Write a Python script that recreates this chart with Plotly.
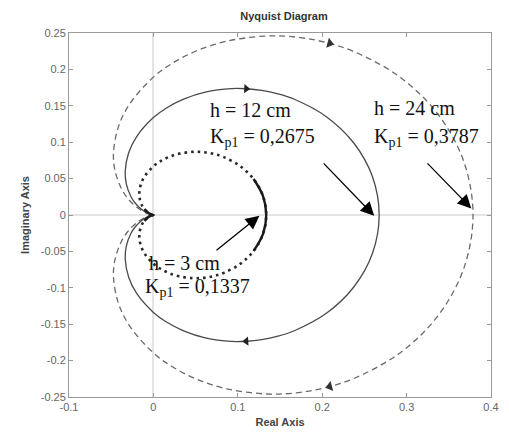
import math
import plotly.graph_objects as go

# Nyquist loci (positive-frequency branch) for three tank levels;
# the negative-frequency branch is the complex conjugate of these.
re_h24 = [0.3787, 0.3675, 0.3361, 0.2900, 0.2364, 0.2089, 0.1818, 0.1557, 0.1310, 0.0870, 0.0507, 0.0220,
          0.0, -0.0280, -0.0415, -0.0473, -0.0454, -0.0378, -0.0303, -0.0197, -0.0097, -0.0037, 0.0]
im_h24 = [0.0, -0.0743, -0.1400, -0.1912, -0.2251, -0.2357, -0.2424, -0.2456, -0.2457, -0.2388, -0.2253, -0.2081,
          -0.1894, -0.1527, -0.1210, -0.0851, -0.0606, -0.0360, -0.0227, -0.0105, -0.0033, -0.0007, 0.0]

re_h12 = [0.2675, 0.2596, 0.2374, 0.2049, 0.1670, 0.1475, 0.1284, 0.1100, 0.0926, 0.0614, 0.0358, 0.0155,
          0.0, -0.0198, -0.0293, -0.0334, -0.0321, -0.0267, -0.0214, -0.0139, -0.0068, -0.0026, 0.0]
im_h12 = [0.0, -0.0525, -0.0989, -0.1351, -0.1590, -0.1665, -0.1712, -0.1734, -0.1736, -0.1687, -0.1591, -0.1470,
          -0.1338, -0.1078, -0.0855, -0.0601, -0.0428, -0.0254, -0.0161, -0.0074, -0.0024, -0.0005, 0.0]

re_h3 = [0.1337, 0.1298, 0.1187, 0.1024, 0.0835, 0.0737, 0.0642, 0.0550, 0.0463, 0.0307, 0.0179, 0.0078,
         0.0, -0.0099, -0.0147, -0.0167, -0.0160, -0.0134, -0.0107, -0.0069, -0.0034, -0.0013, 0.0]
im_h3 = [0.0, -0.0262, -0.0494, -0.0675, -0.0795, -0.0832, -0.0856, -0.0867, -0.0867, -0.0843, -0.0795, -0.0735,
         -0.0669, -0.0539, -0.0427, -0.0300, -0.0214, -0.0127, -0.0080, -0.0037, -0.0012, -0.0003, 0.0]

x_ticks = [-0.1, 0, 0.1, 0.2, 0.3, 0.4]
x_tick_text = ["-0.1", "0", "0.1", "0.2", "0.3", "0.4"]
y_ticks = [-0.25, -0.2, -0.15, -0.1, -0.05, 0, 0.05, 0.1, 0.15, 0.2, 0.25]
y_tick_text = ["-0.25", "-0.2", "-0.15", "-0.1", "-0.05", "0", "0.05", "0.1", "0.15", "0.2", "0.25"]

# text, left x, middle y
labels = [
    ("h = 24 cm", 0.259, 0.1473),
    ("K<sub>p1</sub> = 0,3787", 0.259, 0.1060),
    ("h = 12 cm", 0.065, 0.1446),
    ("K<sub>p1</sub> = 0,2675", 0.065, 0.1060),
    ("h = 3 cm", -0.008, -0.0662),
    ("K<sub>p1</sub> = 0,1337", -0.012, -0.1000),
]
# (tail x, tail y, head x, head y) of the pointer arrows
pointers = [
    (0.323, 0.073, 0.3767, 0.009),
    (0.200, 0.073, 0.2616, -0.001),
    (0.073, -0.050, 0.1256, -0.001),
]

PX_X = 860.0  # pixels per unit along x
PX_Y = 740.0  # pixels per unit along y


def closed_locus(re, im):
    # negative-frequency branch (origin -> K) then positive-frequency branch (K -> origin)
    xs = list(reversed(re)) + re[1:]
    ys = [-v for v in reversed(im)] + im[1:]
    return xs, ys


def cusp(re, im):
    # stretch ending at the origin: upper branch in, lower branch back out
    xs = list(re) + list(reversed(re))[1:]
    ys = [-v for v in im] + list(reversed(im))[1:]
    return xs, ys


def heading(dx, dy):
    return math.degrees(math.atan2(dx * PX_X, dy * PX_Y))


def arrow_marks(re, im, k, color, size):
    xs = [re[k], re[k]]
    ys = [im[k], -im[k]]
    ang_low = heading(re[k + 1] - re[k - 1], im[k + 1] - im[k - 1])
    ang_up = heading(re[k - 1] - re[k + 1], -(im[k - 1] - im[k + 1]))
    return go.Scatter(x=xs, y=ys, mode="markers", hoverinfo="skip",
                      marker=dict(symbol="triangle-up", size=size, color=color,
                                  angle=[ang_low, ang_up], line=dict(width=0)))


fig = go.Figure()

# h = 24 cm : dashed
x24, y24 = closed_locus(re_h24, im_h24)
fig.add_trace(go.Scatter(x=x24, y=y24, mode="lines",
                         line=dict(color="#6a6a6a", width=1.3, dash="6px,4px", shape="spline", smoothing=1)))
fig.add_trace(arrow_marks(re_h24, im_h24, 5, "#333333", 9))

# h = 12 cm : solid
x12, y12 = closed_locus(re_h12, im_h12)
fig.add_trace(go.Scatter(x=x12, y=y12, mode="lines",
                         line=dict(color="#4a4a4a", width=1.3, shape="spline", smoothing=1)))
fig.add_trace(arrow_marks(re_h12, im_h12, 7, "#222222", 8))

# h = 3 cm : dotted, with dense ends near K and near the origin
x3, y3 = closed_locus(re_h3, im_h3)
fig.add_trace(go.Scatter(x=x3, y=y3, mode="lines",
                         line=dict(color="#2a2a2a", width=2.6, dash="2.6px,4px", shape="spline", smoothing=1)))
xa, ya = closed_locus(re_h3[:3], im_h3[:3])
xb, yb = cusp(re_h3[-5:], im_h3[-5:])
for xs, ys in ((xa, ya), (xb, yb)):
    fig.add_trace(go.Scatter(x=xs, y=ys, mode="lines",
                             line=dict(color="#1a1a1a", width=2.4, shape="spline", smoothing=1)))

for text, lx, ly in labels:
    fig.add_annotation(x=lx, y=ly, xref="x", yref="y", text=text, showarrow=False,
                       xanchor="left", yanchor="middle", align="left",
                       font=dict(family="Liberation Serif", size=20, color="#111111"))

for tx, ty, hx, hy in pointers:
    fig.add_annotation(x=hx, y=hy, ax=tx, ay=ty, xref="x", yref="y", axref="x", ayref="y",
                       text="", showarrow=True, arrowhead=2, arrowsize=2.1, arrowwidth=1.3,
                       arrowcolor="#000000")

fig.update_layout(
    width=509, height=437,
    margin=dict(l=69, r=10, t=33, b=34),
    paper_bgcolor="white", plot_bgcolor="white",
    showlegend=False,
    title=dict(text="<b>Nyquist Diagram</b>", x=0.558, xanchor="center", y=0.962, yanchor="middle",
               font=dict(family="Liberation Sans", size=11, color="#333333")),
    font=dict(family="Liberation Sans", size=11, color="#555555"),
)
axis_common = dict(showgrid=False, zeroline=True, zerolinecolor="#e4e4e4", zerolinewidth=2,
                   showline=True, linecolor="#9a9a9a", linewidth=1, mirror="allticks",
                   ticks="inside", ticklen=4, tickcolor="#9a9a9a",
                   tickfont=dict(family="Liberation Sans", size=11, color="#666666"))
fig.update_xaxes(range=[-0.1, 0.4], tickvals=x_ticks, ticktext=x_tick_text,
                 title=dict(text="<b>Real Axis</b>", standoff=6,
                            font=dict(family="Liberation Sans", size=11, color="#444444")),
                 **axis_common)
fig.update_yaxes(range=[-0.25, 0.25], tickvals=y_ticks, ticktext=y_tick_text,
                 title=dict(text="<b>Imaginary Axis</b>", standoff=8,
                            font=dict(family="Liberation Sans", size=11, color="#444444")),
                 **axis_common)

fig.write_html("out.html")
